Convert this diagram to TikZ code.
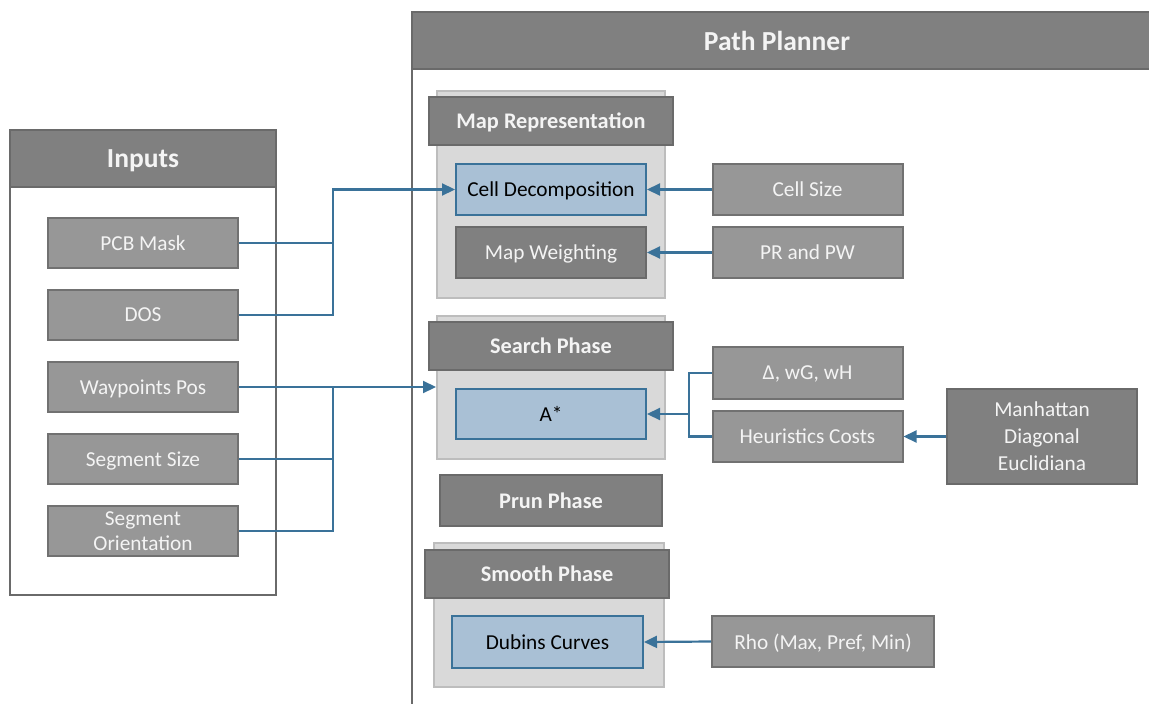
\documentclass[tikz,border=0pt]{standalone}
\usepackage{fontspec}
\setmainfont{Carlito}
\usetikzlibrary{arrows.meta}
\definecolor{hdrfill}{HTML}{808080}
\definecolor{hdrline}{HTML}{6A6A6A}
\definecolor{boxfill}{HTML}{979797}
\definecolor{boxline}{HTML}{717171}
\definecolor{grpfill}{HTML}{D9D9D9}
\definecolor{grpline}{HTML}{BDBDBD}
\definecolor{bluefill}{HTML}{A9C0D5}
\definecolor{blueline}{HTML}{3A7299}
\definecolor{conncol}{HTML}{3A7299}
\definecolor{txtwhite}{HTML}{F4F4F4}
\begin{document}
\begin{tikzpicture}[x=1pt,y=-1pt,
  bodyfont/.style={font=\fontsize{21.3}{26}\selectfont},
  mainhdr/.style={draw=hdrline,fill=hdrfill,line width=2pt,inner sep=0pt,text=txtwhite,text depth=0pt,font=\fontsize{27.5}{30}\selectfont\bfseries},
  sechdr/.style={draw=hdrline,fill=hdrfill,line width=2pt,inner sep=0pt,text=txtwhite,text depth=0pt,minimum width=244pt,minimum height=48pt,font=\fontsize{22.3}{25}\selectfont\bfseries},
  ibox/.style={draw=boxline,fill=boxfill,line width=2pt,inner sep=0pt,text=txtwhite,text depth=0pt,minimum width=190pt,minimum height=50pt,align=center,bodyfont},
  dbox/.style={draw=hdrline,fill=hdrfill,line width=2pt,inner sep=0pt,text=txtwhite,text depth=0pt,minimum width=190pt,minimum height=51pt,align=center,bodyfont},
  bbox/.style={draw=blueline,fill=bluefill,line width=2pt,inner sep=0pt,text=black,text depth=0pt,minimum width=190pt,minimum height=51pt,align=center,bodyfont},
  grp/.style={draw=grpline,fill=grpfill,line width=2pt,inner sep=0pt},
  conn/.style={draw=conncol,line width=2.2pt},
  arr/.style={conn,-{Triangle[length=13pt,width=12pt]}}
]
\useasboundingbox (0,0) rectangle (1149,704);

% Inputs panel
\node[draw=hdrline,fill=white,line width=2pt,minimum width=266pt,minimum height=465pt,inner sep=0pt] (inpanel) at (143,362.5) {};
\node[mainhdr,minimum width=266pt,minimum height=57pt] (inhdr) at (143,158.5) {Inputs};
\node[ibox] (pcb) at (143,243) {PCB Mask};
\node[ibox] (dos) at (143,315) {DOS};
\node[ibox] (wp) at (143,387) {Waypoints Pos};
\node[ibox] (segsize) at (143,459) {Segment Size};
\node[ibox,font=\fontsize{21.3}{25}\selectfont] (segor) at (143,531) {Segment\\Orientation};

% Path Planner panel
\coordinate (pptop) at (412,12);
\coordinate (ppbot) at (412,706);
\draw[draw=hdrline,line width=2pt] (pptop) -- (ppbot);
\node[mainhdr,minimum width=742pt,minimum height=57pt] (pphdr) at (783,40.5) {};
\node[text=txtwhite,text depth=0pt,font=\fontsize{27.5}{30}\selectfont\bfseries] (pptitle) at (777,40.5) {Path Planner};

% Map Representation
\node[grp,minimum width=228pt,minimum height=207pt] (mapbg) at (551,194.5) {};
\node[sechdr] (maphdr) at (551,121) {Map Representation};
\node[bbox] (cell) at (551,189.5) {Cell Decomposition};
\node[dbox] (mapw) at (551,252.5) {Map Weighting};
\node[ibox,minimum height=51pt] (cellsize) at (807.5,189.5) {Cell Size};
\node[ibox,minimum height=51pt] (prpw) at (807.5,252.5) {PR and PW};

% Search Phase
\node[grp,minimum width=228pt,minimum height=143pt] (searchbg) at (551,387.5) {};
\node[sechdr] (searchhdr) at (551,346) {Search Phase};
\node[bbox,minimum height=50pt] (astar) at (551,414) {A*};
\node[ibox,minimum height=52pt] (delta) at (807.5,373) {Δ, wG, wH};
\node[ibox,minimum height=51pt] (heur) at (807.5,436.5) {Heuristics Costs};
\node[dbox,minimum height=95pt,font=\fontsize{21.3}{27}\selectfont] (manh) at (1042,436.5) {Manhattan\\Diagonal\\Euclidiana};

% Prun Phase
\node[sechdr,minimum width=222pt,minimum height=51pt] (prun) at (551,500.5) {Prun Phase};

% Smooth Phase
\node[grp,minimum width=230pt,minimum height=144pt] (smoothbg) at (549,615) {};
\node[sechdr] (smoothhdr) at (547,573.5) {Smooth Phase};
\node[bbox,minimum width=191pt,minimum height=52pt] (dubins) at (547.5,642) {Dubins Curves};
\node[ibox,minimum width=222pt,minimum height=51pt] (rho) at (823,641.5) {Rho (Max, Pref, Min)};

% Connectors
\coordinate (ja) at (333,243);
\coordinate (jb) at (333,315);
\coordinate (jc) at (333,459);
\coordinate (jd) at (333,531);
\coordinate (je) at (333,387);
\draw[conn] (dos.east) -- (jb) -- (ja);
\draw[arr] (pcb.east) -- (ja) |- (cell.west);
\draw[arr] (wp.east) -- (searchbg.west |- wp.east);
\draw[conn] (segsize.east) -- (jc);
\draw[conn] (segor.east) -- (jd) -- (je);
\draw[arr] (cellsize.west) -- (cell.east);
\draw[arr] (prpw.west) -- (mapw.east);
\coordinate (jf) at (689,373);
\coordinate (jg) at (689,436.5);
\coordinate (jh) at (689,414);
\draw[conn] (delta.west) -- (jf) -- (jg) -- (heur.west);
\draw[arr] (jh) -- (astar.east);
\draw[arr] (manh.west) -- (heur.east);
\draw[arr] (rho.west) -- (dubins.east);
\end{tikzpicture}
\end{document}
